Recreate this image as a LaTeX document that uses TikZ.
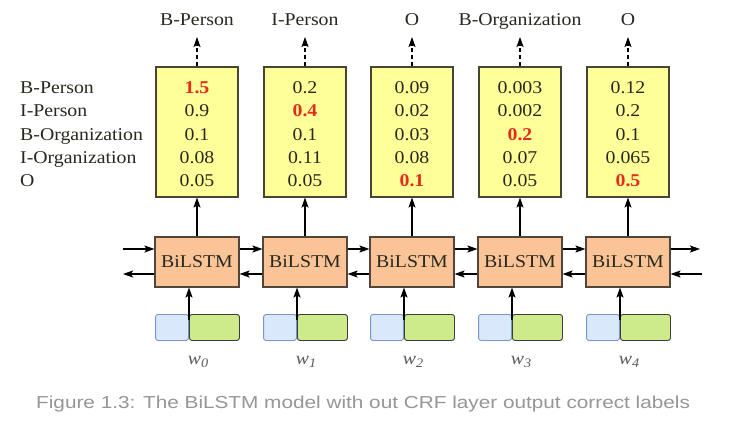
\documentclass[tikz,border=0pt]{standalone}
\usepackage{fontspec}
\setmainfont[FakeStretch=1.1]{Liberation Serif}
\newfontfamily\capfont[FakeStretch=1.2]{Liberation Sans}
\usetikzlibrary{arrows.meta}
\definecolor{ybox}{RGB}{255,255,153}
\definecolor{ylin}{RGB}{70,70,50}
\definecolor{obox}{RGB}{250,196,150}
\definecolor{olin}{RGB}{80,70,60}
\definecolor{bbox}{RGB}{218,232,252}
\definecolor{blin}{RGB}{120,150,200}
\definecolor{gbox}{RGB}{205,235,139}
\definecolor{glin}{RGB}{60,60,60}
\definecolor{hired}{RGB}{225,45,25}
\definecolor{capgray}{RGB}{150,150,150}
\definecolor{txtc}{RGB}{40,40,30}
\definecolor{wc}{RGB}{90,90,90}
\tikzset{
  txt/.style={font=\fontsize{18}{20}\selectfont, inner sep=0pt, text=txtc},
  scorebox/.style={draw=ylin, line width=1.1pt, fill=ybox, minimum width=82pt, minimum height=130pt, inner sep=0pt},
  lstmbox/.style={draw=olin, line width=1.1pt, fill=obox, minimum width=84pt, minimum height=50pt, inner sep=0pt, text=txtc, font=\fontsize{18}{20}\selectfont},
  embb/.style={draw=blin, line width=0.9pt, fill=bbox, rounded corners=2.5pt, minimum width=33pt, minimum height=26pt, inner sep=0pt},
  embg/.style={draw=glin, line width=0.9pt, fill=gbox, rounded corners=2.5pt, minimum width=50pt, minimum height=26pt, inner sep=0pt},
  arr/.style={line width=1.2pt, -{Stealth[length=10pt,width=7pt,inset=2pt]}},
  darr/.style={line width=1.2pt, dash pattern=on 4pt off 3pt, -{Stealth[length=10pt,width=7pt,inset=2pt]}},
  best/.style={text=hired, font=\fontsize{18}{20}\selectfont\bfseries},
}
\begin{document}
\begin{tikzpicture}[x=1pt,y=-1pt]
\useasboundingbox[fill=white] (0,0) rectangle (756,436);
% row labels
\foreach \lab [count=\r from 0] in {B-Person,I-Person,B-Organization,I-Organization,O}
  \node[txt, anchor=base west] (row\r) at (20,{94+23*\r}) {\lab};
% columns
\foreach \i/\xc/\top/\va/\vb/\vc/\vd/\ve/\hi in {
  0/197/B-Person/1.5/0.9/0.1/0.08/0.05/0,
  1/305/I-Person/0.2/0.4/0.1/0.11/0.05/1,
  2/412/O/0.09/0.02/0.03/0.08/0.1/4,
  3/520/B-Organization/0.003/0.002/0.2/0.07/0.05/2,
  4/628/O/0.12/0.2/0.1/0.065/0.5/4}{
  \node[scorebox] (s\i) at (\xc,132) {};
  \foreach \v [count=\r from 0] in {\va,\vb,\vc,\vd,\ve}{
    \ifnum\r=\hi
      \node[txt,best,anchor=base] (n\i\r) at (\xc,{94+23*\r}) {\v};
    \else
      \node[txt,anchor=base] (n\i\r) at (\xc,{94+23*\r}) {\v};
    \fi
  }
  \node[txt,anchor=base] (t\i) at (\xc,26) {\top};
  \coordinate (tip\i) at (\xc,37);
  \draw[darr] (s\i.north) -- (tip\i);
  \node[lstmbox] (b\i) at (\xc,262) {BiLSTM};
  \draw[arr] (b\i.north) -- (s\i.south);
  \node[embb, anchor=north east] (eb\i) at (\xc-8,314) {};
  \node[embg, anchor=north west] (eg\i) at (\xc-8,314) {};
  \draw[arr] ([yshift=-6pt]eg\i.north west) -- (eg\i.north west |- b\i.south);
  \node[txt, text=wc, font=\fontsize{18}{20}\selectfont\itshape, anchor=base] (w\i) at (\xc+1,364) {w\raisebox{-0.45ex}{\fontsize{13}{14}\selectfont\i}};
}
% horizontal connections
\foreach \i/\j in {0/1,1/2,2/3,3/4}{
  \draw[arr] ([yshift=13pt]b\i.east) -- ([yshift=13pt]b\j.west);
  \draw[arr] ([yshift=-12pt]b\j.west) -- ([yshift=-12pt]b\i.east);
}
\coordinate (lin) at (123,249);
\coordinate (lout) at (123,274);
\coordinate (rout) at (700,249);
\coordinate (rin) at (702,274);
\draw[arr] (lin) -- ([yshift=13pt]b0.west);
\draw[arr] ([yshift=-12pt]b0.west) -- (lout);
\draw[arr] ([yshift=13pt]b4.east) -- (rout);
\draw[arr] (rin) -- ([yshift=-12pt]b4.east);
% caption
\node[inner sep=0pt, anchor=base west, text=capgray, font=\capfont\fontsize{17.3}{20}\selectfont] (cap) at (36,408) {Figure 1.3: The BiLSTM model with out CRF layer output correct labels};
\end{tikzpicture}
\end{document}
